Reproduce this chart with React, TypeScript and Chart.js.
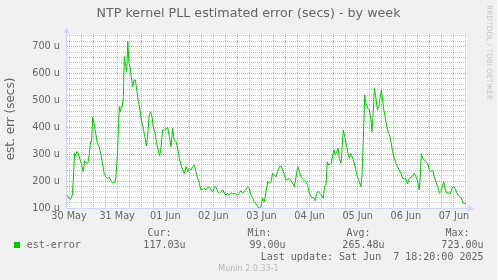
import React, { useEffect, useRef } from 'react';
import { Chart, registerables } from 'chart.js';

Chart.register(...registerables);

const TITLE = 'NTP kernel PLL estimated error (secs) - by week';
const Y_TITLE = 'est. err (secs)';
const SERIES = 'est-error';
const WATERMARK = 'RRDTOOL / TOBI OETIKER';
const VERSION = 'Munin 2.0.33-1';
const LAST_UPDATE = 'Last update: Sat Jun  7 18:20:00 2025';

// day labels (centred at noon of each day)
const dayLabels = ['30 May', '31 May', '01 Jun', '02 Jun', '03 Jun', '04 Jun', '05 Jun', '06 Jun', '07 Jun'];

// hours since 30 May 00:00
const hours = [
  11.1, 12.0, 12.8, 13.6, 14.1, 14.8, 15.3, 15.8, 16.5, 17.3,
  18.1, 19.1, 19.8, 20.5, 21.5, 22.1, 22.8, 23.3, 23.8, 24.5,
  25.3, 26.1, 27.0, 27.8, 28.6, 29.5, 30.3, 31.1, 31.9, 32.8,
  33.6, 34.8, 35.4, 36.1, 36.6, 37.1, 37.6, 38.1, 38.6, 39.1,
  39.6, 40.3, 40.8, 41.3, 41.9, 42.6, 43.1, 43.8, 44.4, 45.1,
  45.8, 46.4, 47.4, 48.1, 48.9, 49.8, 50.6, 51.2, 52.0, 52.7,
  53.4, 54.0, 54.9, 55.7, 56.5, 57.2, 57.9, 58.7, 59.5, 60.4,
  61.2, 62.0, 62.9, 63.7, 64.4, 65.4, 66.2, 67.0, 67.9, 68.7,
  69.5, 70.4, 71.2, 72.0, 72.8, 73.7, 74.5, 75.3, 76.2, 77.0,
  77.8, 78.7, 79.5, 80.3, 81.2, 82.0, 82.8, 83.7, 84.5, 85.3,
  86.2, 87.0, 87.8, 88.7, 89.5, 90.3, 91.1, 92.0, 92.8, 93.6,
  94.4, 96.1, 96.9, 97.8, 98.6, 100.3, 101.1, 101.9, 102.8, 103.6,
  104.4, 105.3, 106.1, 106.9, 107.8, 108.6, 109.4, 111.1, 111.9, 112.7,
  113.6, 115.2, 116.9, 117.7, 118.6, 119.4, 120.2, 121.9, 123.6, 124.4,
  126.1, 127.7, 129.4, 130.2, 131.0, 131.8, 132.7, 134.3, 134.8, 135.5,
  136.3, 137.2, 138.8, 139.5, 140.2, 140.8, 141.5, 142.8, 143.5, 144.2,
  144.8, 146.2, 146.8, 147.7, 148.8, 149.5, 150.2, 151.0, 151.8, 152.5,
  153.8, 154.5, 155.1, 155.8, 156.8, 157.6, 158.1, 158.8, 159.5, 160.1,
  161.0, 161.8, 162.6, 163.1, 163.8, 164.3, 165.1, 165.8, 166.5, 167.8,
  169.0, 169.8, 170.5, 171.4, 172.1, 172.7, 173.4, 174.2, 175.1, 175.9,
  176.7, 177.6, 178.4, 180.1, 180.9, 181.7, 183.4, 184.2, 185.1, 185.9,
  186.7, 187.2, 187.7, 188.4, 189.2, 190.1, 190.9, 191.7, 192.5, 193.4,
  194.2, 195.0, 195.9, 196.7, 197.5, 198.4, 198.9, 199.7, 200.5, 201.4,
  202.2, 203.0, 203.9, 204.7, 205.5, 206.4, 207.0, 207.7, 208.4, 209.2,
  210.0,
];

// estimated error in microseconds
const estError = [
  148, 136, 132, 148, 198, 303, 293, 309, 306, 285,
  266, 235, 276, 266, 269, 303, 347, 347, 437, 415,
  378, 341, 328, 303, 272, 229, 216, 210, 216, 204,
  194, 194, 216, 291, 390, 477, 458, 477, 477, 514,
  663, 626, 607, 720, 638, 620, 583, 551, 576, 576,
  539, 502, 465, 427, 402, 365, 331, 365, 446, 458,
  440, 402, 378, 341, 316, 293, 328, 390, 390, 393,
  400, 365, 328, 397, 353, 347, 322, 285, 260, 241,
  229, 254, 235, 248, 241, 254, 260, 235, 210, 192,
  167, 170, 173, 167, 177, 179, 167, 161, 179, 179,
  161, 155, 161, 167, 155, 148, 155, 148, 157, 152,
  155, 148, 155, 165, 155, 170, 179, 173, 148, 136,
  123, 115, 107, 99, 105, 136, 123, 198, 192, 198,
  229, 216, 254, 256, 241, 223, 204, 210, 192, 179,
  254, 216, 204, 198, 186, 155, 142, 136, 127, 155,
  161, 155, 136, 182, 186, 272, 260, 266, 297, 316,
  297, 322, 285, 266, 390, 365, 341, 309, 285, 303,
  279, 260, 241, 216, 198, 179, 216, 353, 520, 490,
  471, 465, 427, 384, 465, 545, 508, 465, 477, 539,
  465, 434, 402, 378, 365, 341, 309, 285, 266, 254,
  241, 229, 210, 207, 189, 210, 219, 229, 216, 198,
  167, 216, 303, 285, 279, 272, 266, 241, 235, 241,
  216, 198, 179, 155, 161, 186, 198, 167, 155, 157,
  152, 173, 179, 170, 155, 145, 142, 136, 120, 117,
  117,
];

const statHeaders = ['Cur:', 'Min:', 'Avg:', 'Max:'];
const statValues = ['117.03u', '99.00u', '265.48u', '723.00u'];

const X_MIN = 10.5;
const X_MAX = 210.5;
const Y_MIN = 100;
const Y_MAX = 747;

const BACK = '#F0F0F0';
const FONT = '#666666';
const AXIS = '#CFD6F8';
const GRID = 'rgba(143,143,143,0.5)';
const MGRID = 'rgba(222,79,79,0.55)';
const LINE = '#00CC00';

const decor = {
  id: 'muninDecor',
  beforeDraw(chart: any) {
    const { ctx, chartArea: a, width, height } = chart;
    ctx.save();
    ctx.fillStyle = BACK;
    ctx.fillRect(0, 0, width, height);
    ctx.fillStyle = '#FFFFFF';
    ctx.fillRect(a.left, a.top, a.right - a.left, a.bottom - a.top);
    ctx.restore();
  },
  afterDraw(chart: any) {
    const { ctx, chartArea: a } = chart;
    ctx.save();
    // title
    ctx.fillStyle = FONT;
    ctx.font = '12.7px "DejaVu Sans"';
    ctx.textAlign = 'center';
    ctx.textBaseline = 'middle';
    ctx.fillText(TITLE, 248.5, 14);

    // y axis title
    ctx.save();
    ctx.translate(10.5, 119);
    ctx.rotate(-Math.PI / 2);
    ctx.font = '12px "DejaVu Sans"';
    ctx.fillText(Y_TITLE, 0, 0);
    ctx.restore();

    // axis extensions + arrows
    ctx.strokeStyle = AXIS;
    ctx.fillStyle = AXIS;
    ctx.lineWidth = 1;
    ctx.beginPath();
    ctx.moveTo(a.left + 0.5, a.top);
    ctx.lineTo(a.left + 0.5, a.top - 3);
    ctx.moveTo(a.right, a.bottom + 0.5);
    ctx.lineTo(a.right + 3, a.bottom + 0.5);
    ctx.stroke();
    ctx.beginPath();
    ctx.moveTo(a.left + 0.5, a.top - 7);
    ctx.lineTo(a.left - 2.5, a.top - 1);
    ctx.lineTo(a.left + 3.5, a.top - 1);
    ctx.closePath();
    ctx.fill();
    ctx.beginPath();
    ctx.moveTo(a.right + 7, a.bottom + 0.5);
    ctx.lineTo(a.right + 1, a.bottom - 2.5);
    ctx.lineTo(a.right + 1, a.bottom + 3.5);
    ctx.closePath();
    ctx.fill();

    // legend
    ctx.fillStyle = LINE;
    ctx.fillRect(14, 242, 6, 6);
    ctx.fillStyle = FONT;
    ctx.font = '10px "DejaVu Sans Mono"';
    ctx.textAlign = 'left';
    ctx.fillText(SERIES, 26.7, 245.7);
    const rights = [185.5, 285.5, 384.5, 483.5];
    ctx.textAlign = 'right';
    statHeaders.forEach((h, i) => ctx.fillText(h, rights[i] - 14, 233.3));
    statValues.forEach((v, i) => ctx.fillText(v, rights[i], 245.7));
    ctx.fillText(LAST_UPDATE, 483.5, 257.3);

    // version
    ctx.fillStyle = '#BBBBBB';
    ctx.font = '8px "DejaVu Sans"';
    ctx.textAlign = 'center';
    ctx.fillText(VERSION, 248.5, 269.3);

    // watermark
    ctx.save();
    ctx.translate(489, 5);
    ctx.rotate(Math.PI / 2);
    ctx.fillStyle = '#C8C8C8';
    ctx.font = '7.4px "DejaVu Sans"';
    ctx.textAlign = 'left';
    ctx.fillText(WATERMARK, 0, 0);
    ctx.restore();

    ctx.restore();
  },
};

export default function App() {
  const ref = useRef<HTMLCanvasElement | null>(null);

  useEffect(() => {
    document.body.style.margin = '0';
    const canvas = ref.current;
    if (!canvas) return;
    const chart = new Chart(canvas, {
      type: 'line',
      data: {
        datasets: [
          {
            label: SERIES,
            data: hours.map((h, i) => ({ x: h, y: estError[i] })),
            borderColor: LINE,
            borderWidth: 1,
            pointRadius: 0,
            tension: 0,
            fill: false,
          },
        ],
      },
      options: {
        animation: false,
        responsive: false,
        devicePixelRatio: 1,
        layout: { padding: { left: 0, top: 34, right: 30, bottom: 0 } },
        plugins: {
          legend: { display: false },
          tooltip: { enabled: false },
          title: { display: false },
        },
        scales: {
          x: {
            type: 'linear',
            min: X_MIN,
            max: X_MAX,
            afterBuildTicks: (s: any) => {
              const t: any[] = [];
              for (let h = 12; h <= X_MAX; h += 6) t.push({ value: h });
              s.ticks = t;
            },
            afterFit: (s: any) => {
              s.height = 72;
            },
            grid: {
              color: (c: any) => (c.tick && c.tick.value % 24 === 0 ? MGRID : GRID),
              lineWidth: 1,
              drawTicks: false,
            },
            border: { color: AXIS, width: 1, dash: [1, 1] },
            ticks: {
              autoSkip: false,
              maxRotation: 0,
              minRotation: 0,
              padding: 3,
              color: FONT,
              font: { family: 'DejaVu Sans', size: 9.7 },
              callback: (v: any) => {
                const n = Number(v);
                return n % 24 === 12 ? dayLabels[(n - 12) / 24] : '';
              },
            },
          },
          y: {
            type: 'linear',
            min: Y_MIN,
            max: Y_MAX,
            afterBuildTicks: (s: any) => {
              const t: any[] = [];
              for (let v = Y_MIN; v <= Y_MAX; v += 20) t.push({ value: v });
              s.ticks = t;
            },
            afterFit: (s: any) => {
              s.width = 66;
            },
            grid: {
              color: (c: any) => {
                const v = c.tick ? c.tick.value : 0;
                if (v === Y_MIN) return 'rgba(0,0,0,0)';
                return v % 100 === 0 ? MGRID : GRID;
              },
              lineWidth: 1,
              drawTicks: false,
            },
            border: { color: AXIS, width: 1, dash: [1, 1] },
            ticks: {
              autoSkip: false,
              padding: 6,
              color: FONT,
              font: { family: 'DejaVu Sans', size: 9.7 },
              callback: (v: any) => (Number(v) % 100 === 0 ? `${v} u` : ''),
            },
          },
        },
      },
      plugins: [decor],
    } as any);
    return () => chart.destroy();
  }, []);

  return (
    <div style={{ position: 'absolute', left: 0, top: 0, width: 497, height: 280 }}>
      <canvas ref={ref} width={497} height={280} style={{ display: 'block' }} />
    </div>
  );
}
